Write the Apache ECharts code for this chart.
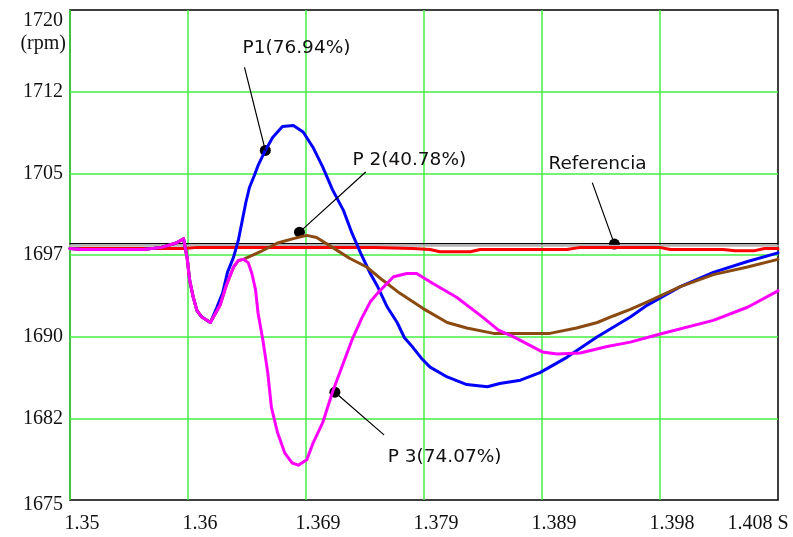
<!DOCTYPE html>
<html>
<head>
<meta charset="utf-8">
<script src="https://cdn.jsdelivr.net/npm/echarts@6/dist/echarts.min.js"></script>
<style>
  html, body { margin: 0; padding: 0; background: #fff; }
  #chart { width: 793px; height: 537px; }
</style>
</head>
<body>
<div id="chart"></div>
<script>
// ---- Axis ranges and tick labels ----
const T_MIN = 1.35, T_MAX = 1.408;      // s
const RPM_MIN = 1675, RPM_MAX = 1720;   // rpm
const DIVISIONS = 6;
const X_TICK_LABELS = ['1.35', '1.36', '1.369', '1.379', '1.389', '1.398', '1.408 S'];
const Y_TICK_LABELS = ['1675', '1682', '1690', '1697', '1705', '1712', '1720'];

// ---- Speed set-point ----
const SETPOINT_RPM = 1698.55;
const SETPOINT_SHADE_RPM = 1698.35;

// ---- Speed traces [time s, speed rpm] ----
const REFERENCIA = [
  [1.3500, 1698.1], [1.3593, 1698.1], [1.3605, 1698.2], [1.3750, 1698.2], [1.3781, 1698.1],
  [1.3795, 1698.0], [1.3803, 1697.8], [1.3828, 1697.8], [1.3836, 1698.0], [1.3907, 1698.0],
  [1.3918, 1698.2], [1.3983, 1698.2], [1.3992, 1698.0], [1.4035, 1698.0], [1.4045, 1697.9],
  [1.4061, 1697.9], [1.4069, 1698.1], [1.4080, 1698.1]
];

const P1 = [
  [1.3500, 1698.1], [1.3510, 1698.0], [1.3560, 1698.0], [1.3575, 1698.2], [1.3587, 1698.6],
  [1.3593, 1699.0], [1.3596, 1697.2], [1.3598, 1695.2], [1.3601, 1693.6], [1.3604, 1692.4],
  [1.3608, 1691.8], [1.3615, 1691.3], [1.3620, 1692.6], [1.3625, 1694.0], [1.3629, 1695.9],
  [1.3634, 1697.3], [1.3638, 1698.9], [1.3641, 1700.6], [1.3644, 1702.3], [1.3647, 1703.7],
  [1.3651, 1704.8], [1.3654, 1705.7], [1.3660, 1707.1], [1.3666, 1708.3], [1.3674, 1709.3],
  [1.3683, 1709.4], [1.3691, 1708.8], [1.3699, 1707.4], [1.3707, 1705.6], [1.3715, 1703.5],
  [1.3724, 1701.6], [1.3731, 1699.5], [1.3738, 1697.7], [1.3746, 1695.8], [1.3752, 1694.6],
  [1.3760, 1692.7], [1.3768, 1691.3], [1.3774, 1689.9], [1.3781, 1689.0], [1.3788, 1688.0],
  [1.3795, 1687.2], [1.3809, 1686.3], [1.3825, 1685.6], [1.3842, 1685.4], [1.3852, 1685.7],
  [1.3869, 1686.0], [1.3885, 1686.7], [1.3907, 1688.1], [1.3932, 1690.0], [1.3959, 1691.8],
  [1.3973, 1692.9], [1.4000, 1694.6], [1.4027, 1695.9], [1.4055, 1696.9], [1.4080, 1697.7]
];

const P2 = [
  [1.3500, 1698.1], [1.3510, 1698.0], [1.3560, 1698.0], [1.3575, 1698.2], [1.3587, 1698.6],
  [1.3593, 1699.0], [1.3596, 1697.2], [1.3598, 1695.2], [1.3601, 1693.6], [1.3604, 1692.4],
  [1.3608, 1691.8], [1.3615, 1691.3], [1.3623, 1692.9], [1.3628, 1694.7], [1.3634, 1696.4],
  [1.3638, 1697.0], [1.3642, 1697.1], [1.3656, 1697.8], [1.3670, 1698.6], [1.3683, 1699.0],
  [1.3694, 1699.3], [1.3702, 1699.1], [1.3715, 1698.2], [1.3729, 1697.2], [1.3743, 1696.4],
  [1.3756, 1695.2], [1.3770, 1694.0], [1.3789, 1692.6], [1.3809, 1691.3], [1.3825, 1690.8],
  [1.3847, 1690.3], [1.3869, 1690.3], [1.3893, 1690.3], [1.3915, 1690.8], [1.3932, 1691.3],
  [1.3945, 1691.9], [1.3959, 1692.5], [1.3973, 1693.2], [1.4000, 1694.6], [1.4027, 1695.7],
  [1.4055, 1696.4], [1.4080, 1697.1]
];

const P3 = [
  [1.3500, 1698.1], [1.3510, 1698.0], [1.3560, 1698.0], [1.3575, 1698.2], [1.3587, 1698.6],
  [1.3593, 1699.0], [1.3596, 1697.2], [1.3598, 1695.2], [1.3601, 1693.6], [1.3604, 1692.4],
  [1.3608, 1691.8], [1.3615, 1691.3], [1.3623, 1692.9], [1.3628, 1694.7], [1.3634, 1696.4],
  [1.3638, 1697.0], [1.3642, 1697.1], [1.3646, 1696.8], [1.3649, 1695.8], [1.3652, 1694.3],
  [1.3654, 1692.2], [1.3658, 1689.7], [1.3662, 1686.7], [1.3665, 1683.5], [1.3670, 1681.2],
  [1.3676, 1679.3], [1.3682, 1678.4], [1.3687, 1678.2], [1.3694, 1678.7], [1.3699, 1680.2],
  [1.3707, 1682.1], [1.3715, 1684.9], [1.3724, 1687.6], [1.3731, 1689.7], [1.3739, 1691.7],
  [1.3746, 1693.2], [1.3752, 1694.0], [1.3765, 1695.5], [1.3776, 1695.8], [1.3784, 1695.8],
  [1.3797, 1694.9], [1.3817, 1693.6], [1.3838, 1691.8], [1.3851, 1690.6], [1.3863, 1690.0],
  [1.3887, 1688.6], [1.3899, 1688.4], [1.3918, 1688.5], [1.3940, 1689.1], [1.3959, 1689.5],
  [1.3982, 1690.2], [1.4027, 1691.5], [1.4055, 1692.7], [1.4080, 1694.2]
];

// ---- Trace callouts: text, marked point on the trace, end of the leader ----
const CALLOUT_TEXT = ['P1(76.94%)', 'P 2(40.78%)', 'P 3(74.07%)', 'Referencia'];
const CALLOUT_POINT = [[1.3660, 1707.1], [1.3688, 1699.6], [1.3717, 1684.9], [1.3946, 1698.5]];
const CALLOUT_TAG = [[1.3643, 1714.7], [1.3742, 1705.1], [1.3757, 1681.0], [1.3928, 1704.1]];

// ---- Presentation ----
const CALLOUT_OFFSET = [[-2, -20], [-13, -12], [4, 23], [-44, -19]];
const GRID_GREEN = '#45ee45';
const AXIS_FONT = 'Liberation Serif';
const NOTE_FONT = 'DejaVu Sans';

// Map physical units to grid-division units (one division per tick)
const T_STEP = (T_MAX - T_MIN) / DIVISIONS;
const RPM_STEP = (RPM_MAX - RPM_MIN) / DIVISIONS;
const toXY = ([t, r]) => [(t - T_MIN) / T_STEP, (r - RPM_MIN) / RPM_STEP];

const trace = (name, pts, color, width) => ({
  name, type: 'line', data: pts.map(toXY), symbol: 'none', smooth: false,
  lineStyle: { color, width, join: 'round', cap: 'round' }, silent: true, animation: false
});

const flat = (rpm) => [[T_MIN, rpm], [T_MAX, rpm]];

const series = [
  trace('setpoint-shade', flat(SETPOINT_SHADE_RPM), '#b4b4b4', 2),
  trace('Referencia', REFERENCIA, '#ff0000', 3),
  trace('setpoint', flat(SETPOINT_RPM), '#000000', 1.3),
  trace('P1', P1, '#0000ff', 3),
  trace('P2', P2, '#8b4a10', 3),
  trace('P3', P3, '#ff00ff', 3)
];

CALLOUT_POINT.forEach((p, i) => {
  series.push(trace('leader' + i, [p, CALLOUT_TAG[i]], '#000000', 1.2));
});

series.push({
  type: 'scatter', silent: true, animation: false,
  symbol: 'circle', symbolSize: 11,
  itemStyle: { color: '#000', opacity: 1 },
  data: CALLOUT_POINT.map(toXY)
});

series.push({
  type: 'scatter', silent: true, animation: false,
  symbolSize: 0,
  itemStyle: { opacity: 1 },
  data: CALLOUT_TAG.map((p, i) => ({
    value: toXY(p),
    label: {
      show: true, position: 'inside', formatter: CALLOUT_TEXT[i],
      offset: CALLOUT_OFFSET[i], align: 'left', verticalAlign: 'middle',
      fontFamily: NOTE_FONT, fontSize: 18.5, color: '#111', opacity: 1
    }
  }))
});

const chart = echarts.init(document.getElementById('chart'), null, { renderer: 'canvas' });
chart.setOption({
  backgroundColor: '#fff',
  animation: false,
  grid: {
    left: 70, right: 15, top: 10, bottom: 37,
    show: true, borderColor: '#000', borderWidth: 1.5, backgroundColor: '#fff'
  },
  xAxis: {
    type: 'value', min: 0, max: DIVISIONS, interval: 1,
    axisLine: { show: false }, axisTick: { show: false },
    splitLine: { show: true, showMinLine: true, showMaxLine: false,
      lineStyle: { color: GRID_GREEN, width: 1.5 } },
    axisLabel: {
      margin: 14, fontFamily: AXIS_FONT, fontSize: 20, color: '#111',
      formatter: (v) => {
        const k = Math.round(v);
        return (k === DIVISIONS ? '{last|' : '{n|') + X_TICK_LABELS[k] + '}';
      },
      rich: {
        n: { fontFamily: AXIS_FONT, fontSize: 20, color: '#111', padding: [0, 0, 0, 24] },
        last: { fontFamily: AXIS_FONT, fontSize: 20, color: '#111', padding: [0, 40, 0, 0] }
      }
    }
  },
  yAxis: {
    type: 'value', min: 0, max: DIVISIONS, interval: 1,
    axisLine: { show: false }, axisTick: { show: false },
    splitLine: { show: true, showMinLine: false, showMaxLine: false,
      lineStyle: { color: GRID_GREEN, width: 1.5 } },
    axisLabel: {
      margin: 7, fontFamily: AXIS_FONT, fontSize: 20, color: '#111',
      formatter: (v) => {
        const k = Math.round(v);
        const tag = k === DIVISIONS ? 'top' : (k === 0 ? 'bot' : 'n');
        return '{' + tag + '|' + Y_TICK_LABELS[k] + '}';
      },
      rich: {
        n: { fontFamily: AXIS_FONT, fontSize: 20, color: '#111' },
        top: { fontFamily: AXIS_FONT, fontSize: 20, color: '#111', padding: [22, 0, 0, 0] },
        bot: { fontFamily: AXIS_FONT, fontSize: 20, color: '#111', padding: [9, 0, 0, 0] }
      }
    }
  },
  graphic: [{
    type: 'text', x: 66, y: 44, silent: true,
    style: { text: '(rpm)', fontFamily: AXIS_FONT, fontSize: 20, fill: '#111',
      align: 'right', verticalAlign: 'middle' }
  }],
  series
});
</script>
</body>
</html>
